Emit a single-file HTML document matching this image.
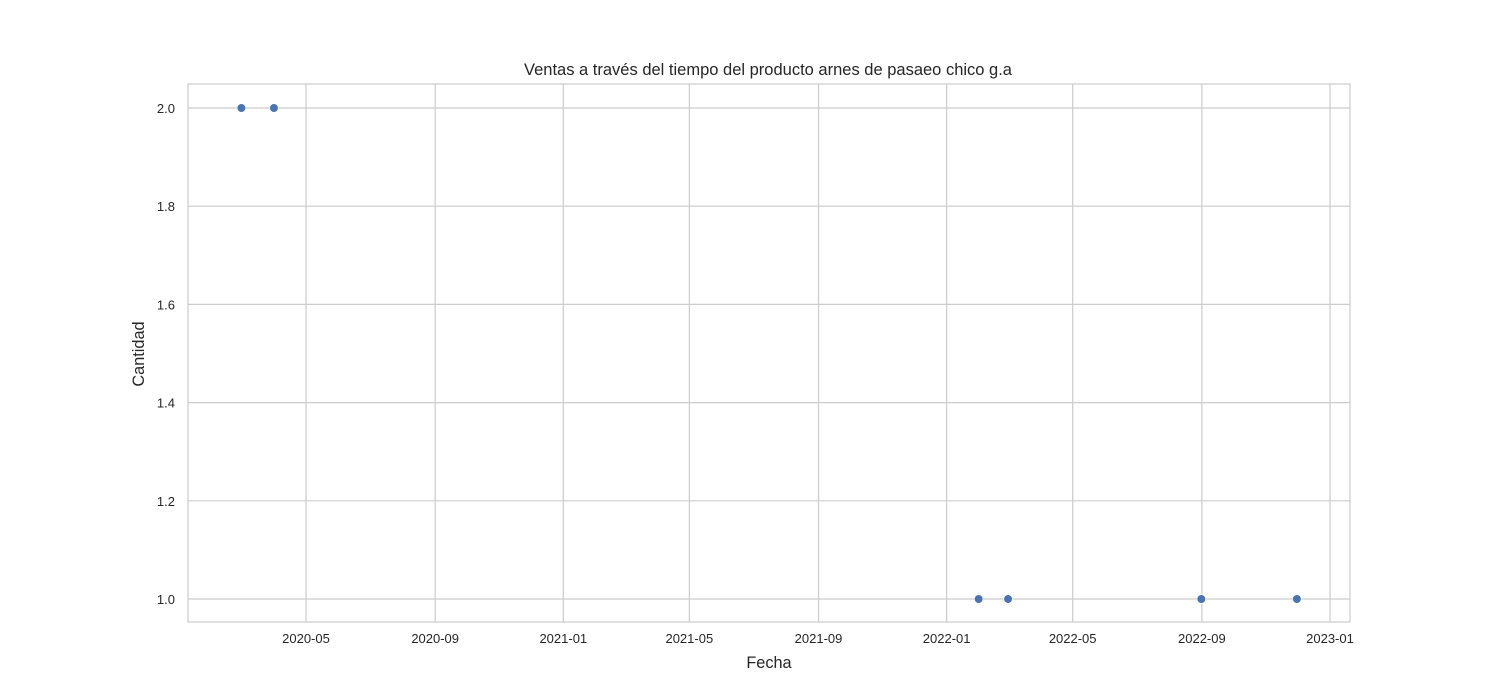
<!DOCTYPE html>
<html><head><meta charset="utf-8"><style>
body{margin:0;background:#fff;}
svg{display:block;font-family:"Liberation Sans","DejaVu Sans",sans-serif;}
</style></head><body>
<svg id="chart" width="1500" height="700">
<rect x="188" y="84" width="1162" height="538" fill="#fff" stroke="#cccccc" stroke-width="1.2"/>
<g id="grid"></g><g id="ticks"></g><g id="points"></g>
<text x="768" y="75" text-anchor="middle" font-size="16.5" fill="#262626">Ventas a través del tiempo del producto arnes de pasaeo chico g.a</text>
<text x="769" y="668" text-anchor="middle" font-size="16.3" fill="#262626">Fecha</text>
<text x="144" y="354" text-anchor="middle" font-size="16.3" fill="#262626" transform="rotate(-90 144 354)">Cantidad</text>
</svg>
<script>
const dates=["2020-02-29","2020-03-31","2022-01-31","2022-02-28","2022-08-31","2022-11-30"];
const values=[2,2,1,1,1,1];
const xTicks=["2020-05","2020-09","2021-01","2021-05","2021-09","2022-01","2022-05","2022-09","2023-01"];
const yTicks=[1.0,1.2,1.4,1.6,1.8,2.0];
const NS="http://www.w3.org/2000/svg";
const t0=Date.UTC(2020,4,1),t1=Date.UTC(2023,0,1);
function xs(s){const p=s.split("-").map(Number);const t=Date.UTC(p[0],p[1]-1,p[2]||1);return 306+(t-t0)/(t1-t0)*1024;}
function ys(v){return 599-(v-1)*491;}
function el(tag,a,parent){const e=document.createElementNS(NS,tag);for(const k in a)e.setAttribute(k,a[k]);parent.appendChild(e);return e;}
const g=document.getElementById("grid"),tk=document.getElementById("ticks"),pt=document.getElementById("points");
xTicks.forEach(s=>{const x=xs(s);
 const l=el("line",{x1:x,x2:x,y1:84,y2:622,stroke:"#cccccc","stroke-width":1.2},g);
 
 
 const t=el("text",{x:x,y:643,"text-anchor":"middle","font-size":13,fill:"#262626"},tk);t.textContent=s;
 
 });
yTicks.forEach(v=>{const y=ys(v);
 const l=el("line",{x1:188,x2:1350,y1:y,y2:y,stroke:"#cccccc","stroke-width":1.2},g);
 
 
 const t=el("text",{x:175,y:y+5,"text-anchor":"end","font-size":13,fill:"#262626"},tk);t.textContent=v.toFixed(1);
 
 });
dates.forEach((d,i)=>{const c=el("circle",{cx:xs(d)+0.5,cy:ys(values[i]),r:4.3,fill:"#4c72b0",stroke:"#fff","stroke-width":0.6},pt);
 
 });
</script>
</body></html>
